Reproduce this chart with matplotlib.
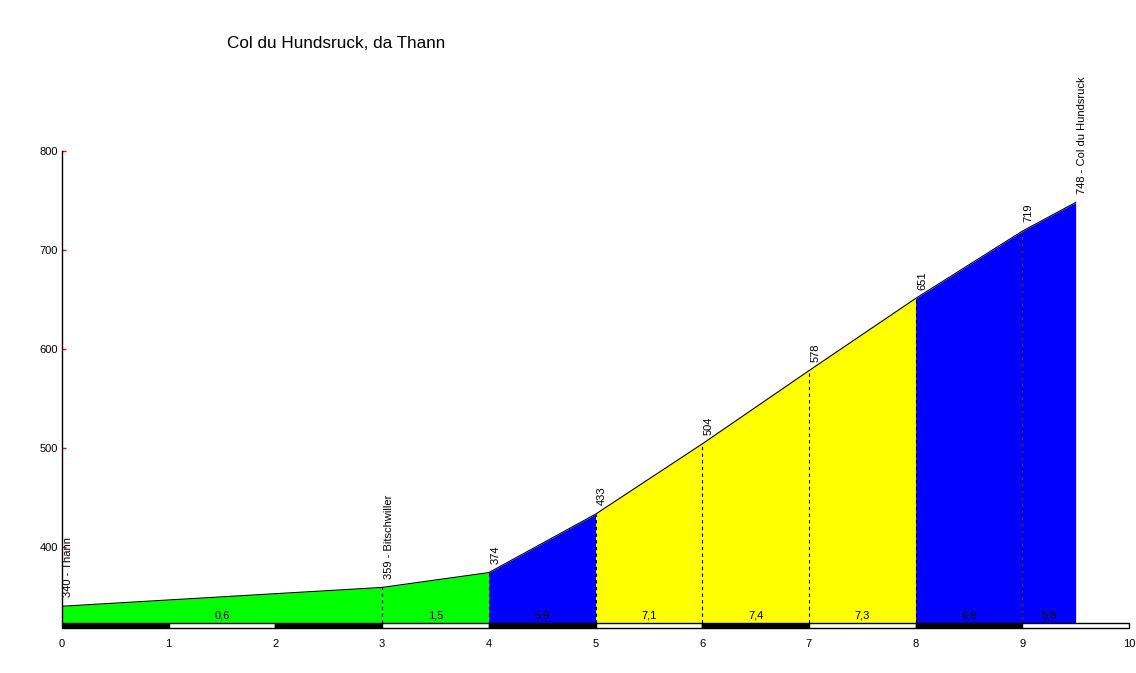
import matplotlib
matplotlib.use('Agg')
import matplotlib.pyplot as plt

# profile data
km = [0, 3, 4, 5, 6, 7, 8, 9, 9.5]
elev = [340, 359, 374, 433, 504, 578, 651, 719, 748]
place_names = {0: 'Thann', 3: 'Bitschwiller', 9.5: 'Col du Hundsruck'}
gradients = [0.6, 1.5, 5.9, 7.1, 7.4, 7.3, 6.8, 5.8]
seg_colors = ['#00ff00', '#00ff00', '#0000ff', '#ffff00', '#ffff00', '#ffff00', '#0000ff', '#0000ff']
y_ticks = [400, 500, 600, 700, 800]
x_ticks = list(range(0, 11))

base = 323
band_low = 318

plt.rcParams['font.family'] = ['Liberation Sans', 'DejaVu Sans']

fig = plt.figure(figsize=(11.36, 6.73), dpi=100)
ax = fig.add_axes([62 / 1136, 1 - 628 / 673, (1129 - 62) / 1136, (628 - 151) / 673])
ax.set_xlim(0, 10)
ax.set_ylim(band_low, 800)

# coloured segments
for i in range(len(km) - 1):
    ax.fill_between([km[i], km[i + 1]], [elev[i], elev[i + 1]], base,
                    color=seg_colors[i], linewidth=0)
    mid = (km[i] + km[i + 1]) / 2
    ax.text(mid, base + 3, f'{gradients[i]:.1f}'.replace('.', ','),
            ha='center', va='bottom', fontsize=8)
ax.plot(km, elev, color='black', linewidth=0.8)

# dashed markers at intermediate points
for x, y in zip(km[1:-1], elev[1:-1]):
    ax.plot([x, x], [base, y], color='black', linestyle=(0, (3, 3)), linewidth=0.8)

# elevation labels
for x, y in zip(km, elev):
    label = str(y)
    if x in place_names:
        label += ' - ' + place_names[x]
    ax.text(x + 0.06, y + 9, label, rotation=90, ha='center', va='bottom',
            fontsize=8, clip_on=False)

# km band
for k in range(10):
    bars = ax.bar(k + 0.5, base - band_low, width=1, bottom=band_low,
                  color='black' if k % 2 == 0 else 'white', edgecolor='black', linewidth=1)
    for b in bars:
        b.set_clip_on(False)

ax.spines['top'].set_visible(False)
ax.spines['right'].set_visible(False)
ax.spines['bottom'].set_visible(False)
ax.spines['left'].set_bounds(base, 800)
ax.spines['left'].set_linewidth(1)

ax.set_yticks(y_ticks)
ax.set_yticklabels([str(v) for v in y_ticks], fontsize=8)
ax.tick_params(axis='y', direction='in', color='red', length=3, width=1, pad=3)
ax.set_xticks(x_ticks)
ax.set_xticklabels([str(v) for v in x_ticks], fontsize=8)
ax.tick_params(axis='x', length=0, pad=8)

fig.text(336 / 1136, 1 - 44 / 673, 'Col du Hundsruck, da Thann', ha='center', va='center', fontsize=12.3)

fig.savefig('out.png', dpi=100)
